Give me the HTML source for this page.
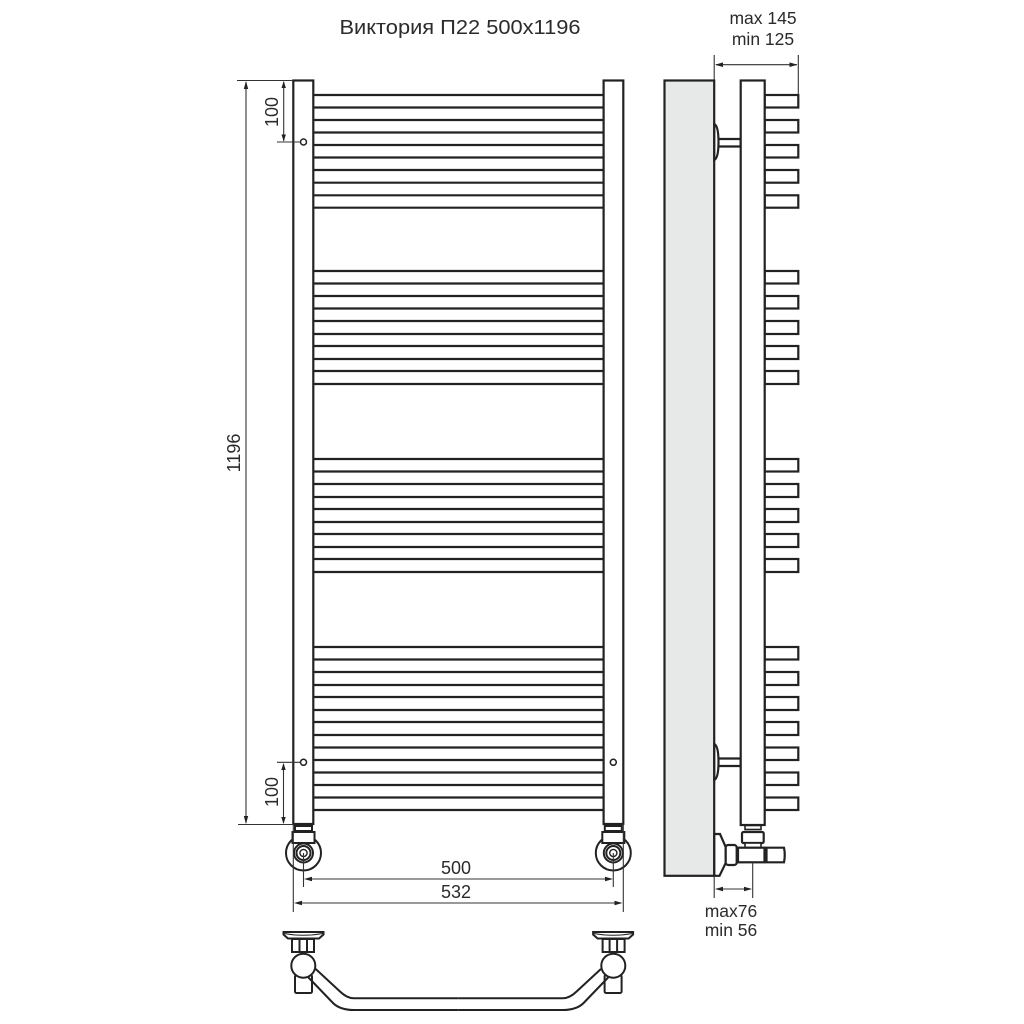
<!DOCTYPE html>
<html><head><meta charset="utf-8"><style>html,body{margin:0;padding:0;background:#fff}svg{display:block}text{font-family:"Liberation Sans",sans-serif;fill:#2b2b2b}</style></head><body>
<svg xmlns="http://www.w3.org/2000/svg" width="1024" height="1024" viewBox="0 0 1024 1024">
<rect width="1024" height="1024" fill="#fff"/>
<defs>
<g id="conn" fill="#fff" stroke="#222" stroke-width="2">
<circle cx="0" cy="853" r="17.5"/>
<rect x="-8.5" y="826" width="17" height="5"/>
<rect x="-11" y="832" width="22" height="11"/>
<circle cx="0" cy="853" r="9.5"/><circle cx="0" cy="853" r="7"/><circle cx="0" cy="853" r="3.6" stroke-width="1.4"/>
</g>
<g id="bott" fill="#fff" stroke="#222" stroke-width="2">
<rect x="295" y="975" width="17" height="18" rx="1.5"/>
<path d="M315.7 969L340 991.5Q347 998.3 354 998.3H458.3" fill="none"/>
<path d="M308 977L333 1003Q340 1010 354 1010H458.3" fill="none"/>
<path d="M283.5 932H323.5V934.5L319 938.5H288L283.5 934.5Z"/>
<path d="M284 933.5Q303 937 323 933.5" fill="none" stroke-width="1"/>
<rect x="292" y="939" width="22" height="13"/>
<path d="M299.5 939V952M307 939V952" fill="none"/>
<circle cx="303.3" cy="965.7" r="12"/>
</g>
</defs>

<text x="460" y="34" font-size="20" text-anchor="middle" textLength="241" lengthAdjust="spacingAndGlyphs">Виктория П22 500х1196</text>

<!-- front bars -->
<path fill="none" stroke="#222" stroke-width="2.2" d="M313 95H604M313 107.5H604M313 120H604M313 132.5H604M313 145H604M313 157.5H604M313 170H604M313 182.7H604M313 195.3H604M313 207.7H604
M313 271H604M313 283.5H604M313 296H604M313 308.5H604M313 321H604M313 334H604M313 346H604M313 359H604M313 371H604M313 384H604
M313 459H604M313 471.5H604M313 484H604M313 497H604M313 509H604M313 522H604M313 534H604M313 547H604M313 559H604M313 572H604
M313 647H604M313 659.5H604M313 672H604M313 685H604M313 697H604M313 710H604M313 722H604M313 735H604M313 747.5H604M313 760H604M313 772.5H604M313 785H604M313 797.5H604M313 810H604"/>

<!-- front columns -->
<rect x="293.3" y="80.5" width="20" height="743.5" fill="#fff" stroke="#222" stroke-width="2.2"/>
<rect x="603.6" y="80.5" width="19.7" height="743.5" fill="#fff" stroke="#222" stroke-width="2.2"/>
<circle cx="303.5" cy="142" r="3" fill="#fff" stroke="#222" stroke-width="1.5"/>
<circle cx="303.5" cy="762.3" r="3" fill="#fff" stroke="#222" stroke-width="1.5"/>
<circle cx="613.3" cy="762.3" r="3" fill="#fff" stroke="#222" stroke-width="1.5"/>

<use href="#conn" transform="translate(303.5 0)"/>
<use href="#conn" transform="translate(613.3 0)"/>

<!-- front dimensions -->
<g fill="none" stroke="#333" stroke-width="1.1">
<path d="M237 80.5H293M238 824.5H293"/>
<path d="M246 82V823"/>
<path d="M283.7 82V141M277 142H300.5"/>
<path d="M277 762.3H300.5M283.5 764V823"/>
<path d="M303.5 853V887M613.3 853V887M293.3 824V912M623.3 824V912"/>
<path d="M306 879H611M296 903H621"/>
</g>
<g fill="#222">
<path d="M246 81l-2.2 8h4.4zM246 824l-2.2-8h4.4z"/>
<path d="M283.7 81l-2.2 7h4.4zM283.7 141.5l-2.2-7h4.4z"/>
<path d="M283.5 763l-2.2 7h4.4zM283.5 824l-2.2-7h4.4z"/>
<path d="M304 879l8-2.3v4.6zM613 879l-8-2.3v4.6z"/>
<path d="M294 903l8-2.3v4.6zM622.5 903l-8-2.3v4.6z"/>
</g>
<text x="456" y="874" font-size="18" text-anchor="middle">500</text>
<text x="456" y="898" font-size="18" text-anchor="middle">532</text>
<text transform="translate(278 112) rotate(-90)" font-size="18" text-anchor="middle">100</text>
<text transform="translate(278 792) rotate(-90)" font-size="18" text-anchor="middle">100</text>
<text transform="translate(240 453) rotate(-90)" font-size="18" text-anchor="middle">1196</text>

<!-- side view -->
<rect x="664.5" y="80.5" width="49.7" height="795.3" fill="#e7e9e9" stroke="#222" stroke-width="2.2"/>
<g fill="#fff" stroke="#222" stroke-width="2.2">
<rect x="764.7" y="95" width="33.6" height="12.5"/><rect x="764.7" y="120" width="33.6" height="12.5"/><rect x="764.7" y="145" width="33.6" height="12.5"/><rect x="764.7" y="170" width="33.6" height="12.7"/><rect x="764.7" y="195.3" width="33.6" height="12.4"/>
<rect x="764.7" y="271" width="33.6" height="12.5"/><rect x="764.7" y="296" width="33.6" height="12.5"/><rect x="764.7" y="321" width="33.6" height="13"/><rect x="764.7" y="346" width="33.6" height="13"/><rect x="764.7" y="371" width="33.6" height="13"/>
<rect x="764.7" y="459" width="33.6" height="12.5"/><rect x="764.7" y="484" width="33.6" height="13"/><rect x="764.7" y="509" width="33.6" height="13"/><rect x="764.7" y="534" width="33.6" height="13"/><rect x="764.7" y="559" width="33.6" height="13"/>
<rect x="764.7" y="647" width="33.6" height="12.5"/><rect x="764.7" y="672" width="33.6" height="13"/><rect x="764.7" y="697" width="33.6" height="13"/><rect x="764.7" y="722" width="33.6" height="13"/><rect x="764.7" y="747.5" width="33.6" height="12.5"/><rect x="764.7" y="772.5" width="33.6" height="12.5"/><rect x="764.7" y="797.5" width="33.6" height="12.5"/>
<path d="M718 139H740.7V146.5H718Z"/>
<path d="M718 758.5H740.7V766H718Z"/>
<path d="M714.3 124Q718.5 126 718.5 142Q718.5 158 714.3 160Z"/>
<path d="M714.3 744Q718.5 746 718.5 762Q718.5 778 714.3 780Z"/>
<rect x="740.7" y="80.5" width="24" height="744.5"/>
<path d="M714.3 834H720L725.7 847V863L719.5 875.8H714.3Z"/>
<rect x="745" y="825.5" width="16" height="4" stroke-width="1.6"/>
<rect x="742" y="832" width="21.7" height="11" rx="1.5"/>
<rect x="745" y="843" width="16" height="4.7" stroke-width="1.6"/>
<rect x="725.7" y="845" width="11" height="20" rx="2.5"/>
<rect x="737" y="847.7" width="5" height="14.6" stroke-width="1.6"/>
<rect x="738" y="847.7" width="26.5" height="14.6"/>
<path d="M766.5 847.7H784Q785.5 855 784 862.3H766.5Z"/>
</g>

<!-- side dimensions -->
<g fill="none" stroke="#333" stroke-width="1.1">
<path d="M714.2 55V80M798.3 55V95M716 64.7H797"/>
<path d="M714.2 876V898M752.7 862V898M716 889H751"/>
</g>
<g fill="#222">
<path d="M715 64.7l8-2.3v4.6zM797.5 64.7l-8-2.3v4.6z"/>
<path d="M715 889l8-2.3v4.6zM752 889l-8-2.3v4.6z"/>
</g>
<text x="763" y="24" font-size="17.5" text-anchor="middle">max 145</text>
<text x="763" y="45" font-size="17.5" text-anchor="middle">min 125</text>
<text x="731" y="917" font-size="17.5" text-anchor="middle">max76</text>
<text x="731" y="936" font-size="17.5" text-anchor="middle">min 56</text>

<!-- bottom view -->
<use href="#bott"/>
<use href="#bott" transform="translate(916.6 0) scale(-1 1)"/>
</svg>
</body></html>
